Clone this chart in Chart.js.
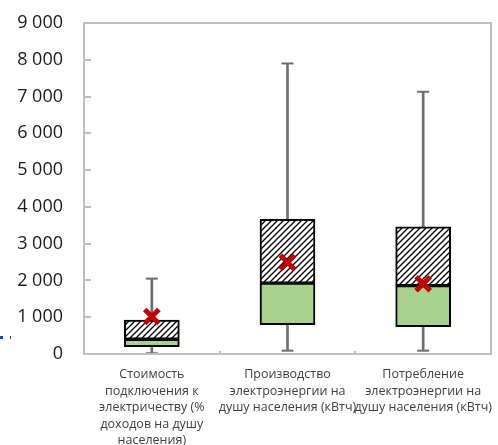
<!DOCTYPE html>
<html lang="ru">
<head>
<meta charset="utf-8">
<script src="https://cdn.jsdelivr.net/npm/chart.js@4/dist/chart.umd.min.js"></script>
<style>
  html, body { margin: 0; padding: 0; background: #ffffff; }
  #wrap { position: relative; width: 498px; height: 445px; }
  .sel { position: absolute; background: #1f3fd0; }
</style>
</head>
<body>
<div id="wrap">
  <canvas id="boxChart" width="498" height="445"></canvas>
  <div class="sel" style="left:0;top:336px;width:3px;height:3px;"></div>
  <div class="sel" style="left:10px;top:336px;width:1px;height:3px;"></div>
</div>
<script>
  const categories = [
    ["Стоимость", "подключения к", "электричеству (%", "доходов на душу", "населения)"],
    ["Производство", "электроэнергии на", "душу населения (кВтч)"],
    ["Потребление", "электроэнергии на", "душу населения (кВтч)"]
  ];
  const minValues = [20, 90, 90];
  const q1Values = [200, 800, 745];
  const medianValues = [400, 1925, 1860];
  const q3Values = [920, 3660, 3460];
  const maxValues = [2050, 7900, 7130];
  const meanValues = [1020, 2490, 1910];
  const yTicks = [0, 1000, 2000, 3000, 4000, 5000, 6000, 7000, 8000, 9000];

  const whiskerColor = "#6e6e6e";
  const frameColor = "#bfbfbf";

  function makeHatch() {
    const c = document.createElement("canvas");
    c.width = 6;
    c.height = 6;
    const g = c.getContext("2d");
    g.fillStyle = "#ffffff";
    g.fillRect(0, 0, 6, 6);
    g.strokeStyle = "#000000";
    g.lineWidth = 1.3;
    g.beginPath();
    g.moveTo(-1, 7); g.lineTo(7, -1);
    g.moveTo(-4, 4); g.lineTo(4, -4);
    g.moveTo(2, 10); g.lineTo(10, 2);
    g.stroke();
    return g.createPattern(c, "repeat");
  }

  function fmt(v) {
    return String(v).replace(/\B(?=(\d{3})+(?!\d))/g, " ");
  }

  // рамка области графика, внутренние деления оси Y и мелкие деления между категориями
  const frame = {
    id: "frame",
    afterDraw(chart) {
      const { ctx, chartArea: a } = chart;
      const y = chart.scales.y;
      const x = chart.scales.x;
      ctx.save();
      ctx.strokeStyle = frameColor;
      ctx.lineWidth = 2;
      ctx.strokeRect(a.left, a.top, a.right - a.left, a.bottom - a.top);
      ctx.beginPath();
      yTicks.forEach((t) => {
        const py = Math.round(y.getPixelForValue(t));
        ctx.moveTo(a.left, py);
        ctx.lineTo(a.left + 7, py);
      });
      for (let i = 0; i < categories.length - 1; i++) {
        const px = Math.round((x.getPixelForValue(i) + x.getPixelForValue(i + 1)) / 2);
        ctx.moveTo(px, a.bottom);
        ctx.lineTo(px, a.bottom - 3);
      }
      ctx.stroke();
      ctx.restore();
    }
  };

  const boxBase = {
    type: "bar",
    grouped: false,
    barThickness: 55,
    borderColor: "#000000",
    borderWidth: 2,
    borderSkipped: false,
    order: 2
  };

  new Chart(document.getElementById("boxChart"), {
    type: "bar",
    data: {
      labels: categories,
      datasets: [
        {
          type: "bar",
          grouped: false,
          barThickness: 2,
          backgroundColor: whiskerColor,
          borderWidth: 0,
          order: 5,
          data: q3Values.map((v, i) => [v, maxValues[i]])
        },
        {
          type: "bar",
          grouped: false,
          barThickness: 2,
          backgroundColor: whiskerColor,
          borderWidth: 0,
          order: 5,
          data: minValues.map((v, i) => [v, q1Values[i]])
        },
        Object.assign({}, boxBase, {
          backgroundColor: "#a9d18e",
          data: q1Values.map((v, i) => [v, medianValues[i]])
        }),
        Object.assign({}, boxBase, {
          backgroundColor: makeHatch(),
          data: medianValues.map((v, i) => [v, q3Values[i]])
        }),
        {
          type: "line",
          showLine: false,
          data: maxValues,
          pointStyle: "line",
          pointRadius: 6,
          borderColor: whiskerColor,
          borderWidth: 2,
          order: 1
        },
        {
          type: "line",
          showLine: false,
          data: minValues,
          pointStyle: "line",
          pointRadius: 6,
          borderColor: whiskerColor,
          borderWidth: 2,
          order: 1
        },
        {
          type: "line",
          showLine: false,
          data: meanValues,
          pointStyle: "crossRot",
          pointRadius: 10,
          borderColor: "#c00000",
          backgroundColor: "#c00000",
          borderWidth: 5,
          order: 0
        }
      ]
    },
    options: {
      responsive: false,
      animation: false,
      layout: { autoPadding: false, padding: { top: 23, right: 7, left: 0, bottom: 0 } },
      plugins: { legend: { display: false }, tooltip: { enabled: false } },
      scales: {
        x: {
          grid: { display: false },
          border: { display: false },
          ticks: {
            color: "#404040",
            font: { family: "'Open Sans', sans-serif", size: 12.5, lineHeight: 1.33 },
            padding: 4,
            maxRotation: 0,
            autoSkip: false
          },
          afterFit(scale) {
            scale.height = 91;
            scale.paddingLeft = 0;
            scale.paddingRight = 0;
          }
        },
        y: {
          min: 0,
          max: 9000,
          grid: { display: false },
          border: { display: false },
          ticks: {
            stepSize: 1000,
            color: "#1a1a1a",
            font: { family: "'Open Sans', sans-serif", size: 18 },
            padding: 13,
            callback(value) { return fmt(value); }
          },
          afterFit(scale) {
            scale.width = 84;
            scale.paddingTop = 0;
            scale.paddingBottom = 0;
          }
        }
      }
    },
    plugins: [frame]
  });
</script>
</body>
</html>
